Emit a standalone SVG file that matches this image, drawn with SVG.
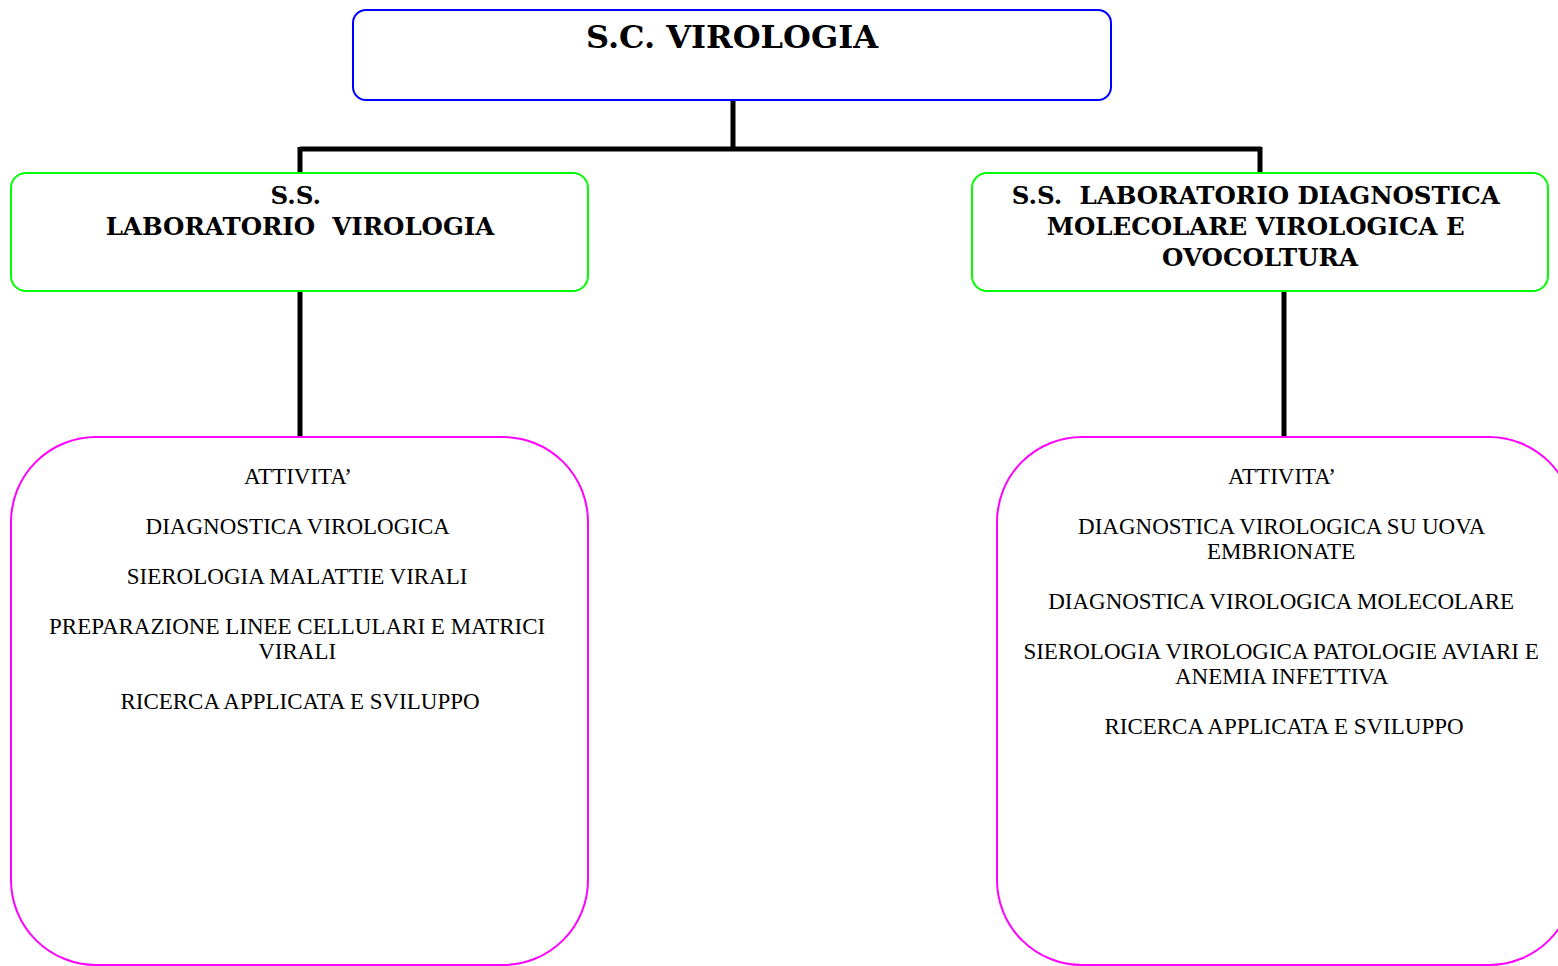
<svg xmlns="http://www.w3.org/2000/svg" width="1558" height="966" viewBox="0 0 1558 966">
  <style>
    .head { font-family: "DejaVu Serif", "Liberation Serif", serif; font-weight: bold; fill: #000; text-anchor: middle; }
    .body { font-family: "Liberation Serif", "DejaVu Serif", serif; font-size: 23px; fill: #000; text-anchor: middle; }
    .wire { fill: none; stroke: #000; stroke-width: 5; }
  </style>
  <rect width="1558" height="966" fill="#fff"/>

  <!-- connectors -->
  <g id="connectors">
    <path class="wire" d="M733 100 V149 M300 149 H1261 M300 147 V173 M1260 147 V173"/>
    <path class="wire" d="M300 291 V437"/>
    <path class="wire" d="M1284 291 V437"/>
  </g>

  <!-- top unit -->
  <g id="sc-virologia">
    <rect x="353" y="10" width="758" height="90" rx="13" fill="#fff" stroke="#0000ff" stroke-width="2"/>
    <text class="head" x="732" y="48" font-size="32">S.C. VIROLOGIA</text>
  </g>

  <!-- left sub-unit -->
  <g id="ss-lab-virologia">
    <rect x="11" y="173" width="577" height="118" rx="15" fill="#fff" stroke="#00ff00" stroke-width="2"/>
    <text class="head" x="300" font-size="24.5">
      <tspan x="300" y="204">S.S.</tspan>
      <tspan x="300" y="235" xml:space="preserve">LABORATORIO  VIROLOGIA</tspan>
    </text>
  </g>

  <!-- right sub-unit -->
  <g id="ss-lab-molecolare">
    <rect x="972" y="173" width="576" height="118" rx="15" fill="#fff" stroke="#00ff00" stroke-width="2"/>
    <text class="head" x="1260" font-size="24.5">
      <tspan x="1260" y="204" xml:space="preserve">S.S.  LABORATORIO DIAGNOSTICA</tspan>
      <tspan x="1260" y="235">MOLECOLARE VIROLOGICA E</tspan>
      <tspan x="1260" y="266">OVOCOLTURA</tspan>
    </text>
  </g>

  <!-- left activities -->
  <g id="attivita-left">
    <rect x="11" y="437" width="577" height="528" rx="85" fill="#fff" stroke="#ff00ff" stroke-width="2"/>
    <text class="body">
      <tspan x="300" y="484">ATTIVITA’</tspan>
      <tspan x="300" y="534">DIAGNOSTICA VIROLOGICA</tspan>
      <tspan x="300" y="584">SIEROLOGIA MALATTIE VIRALI</tspan>
      <tspan x="300" y="634">PREPARAZIONE LINEE CELLULARI E MATRICI</tspan>
      <tspan x="300" y="659">VIRALI</tspan>
      <tspan x="300" y="709">RICERCA APPLICATA E SVILUPPO</tspan>
    </text>
  </g>

  <!-- right activities -->
  <g id="attivita-right">
    <rect x="997" y="437" width="577" height="528" rx="85" fill="#fff" stroke="#ff00ff" stroke-width="2"/>
    <text class="body">
      <tspan x="1284" y="484">ATTIVITA’</tspan>
      <tspan x="1284" y="534">DIAGNOSTICA VIROLOGICA SU UOVA</tspan>
      <tspan x="1284" y="559">EMBRIONATE</tspan>
      <tspan x="1284" y="609">DIAGNOSTICA VIROLOGICA MOLECOLARE</tspan>
      <tspan x="1284" y="659">SIEROLOGIA VIROLOGICA PATOLOGIE AVIARI E</tspan>
      <tspan x="1284" y="684">ANEMIA INFETTIVA</tspan>
      <tspan x="1284" y="734">RICERCA APPLICATA E SVILUPPO</tspan>
    </text>
  </g>
</svg>
